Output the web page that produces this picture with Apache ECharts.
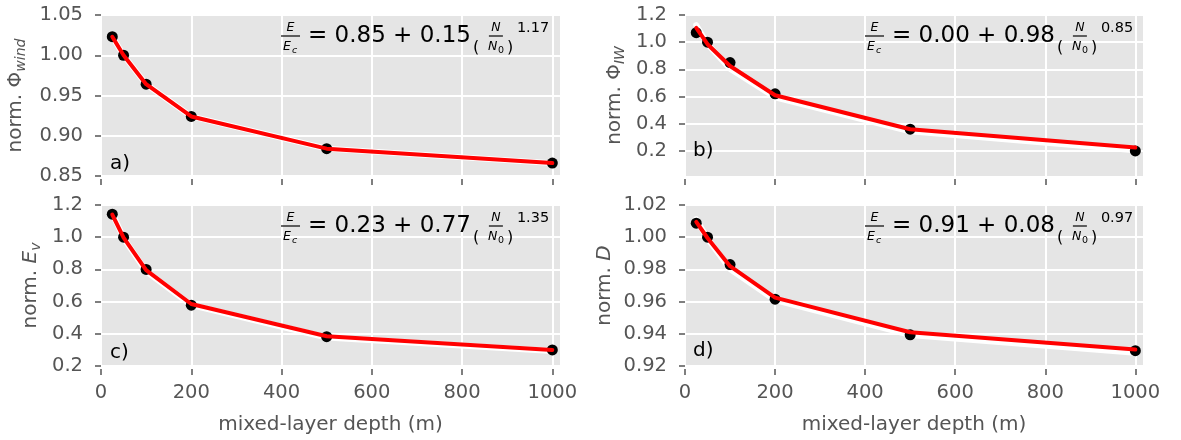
<!DOCTYPE html>
<html>
<head>
<meta charset="utf-8">
<script src="https://cdn.jsdelivr.net/npm/echarts@6/dist/echarts.min.js"></script>
<style>
html, body { margin: 0; padding: 0; background: #ffffff; }
#chart { width: 1181px; height: 440px; }
</style>
</head>
<body>
<div id="chart"></div>
<script>
// Mixed-layer depth (m) of each experiment
const depths = [25, 50, 100, 200, 500, 1000];

// a) normalised wind power input
const windObs = [1.023, 1.000, 0.964, 0.924, 0.884, 0.866];
const windFit = [1.023, 1.000, 0.964, 0.924, 0.884, 0.866];
const windFitHalo = [1.023, 1.000, 0.964, 0.924, 0.884, 0.866];

// b) normalised internal-wave energy flux
const iwObs = [1.07, 1.00, 0.85, 0.62, 0.36, 0.20];
const iwFit = [1.105, 0.985, 0.825, 0.610, 0.360, 0.225];
const iwFitHalo = [1.125, 0.985, 0.805, 0.595, 0.345, 0.205];

// c) normalised vertical energy
const evObs = [1.143, 1.000, 0.800, 0.578, 0.382, 0.300];
const evFit = [1.140, 0.998, 0.795, 0.585, 0.385, 0.300];
const evFitHalo = [1.148, 0.995, 0.788, 0.578, 0.377, 0.293];

// d) normalised dissipation
const dObs = [1.0087, 1.0000, 0.9830, 0.9615, 0.9394, 0.9295];
const dFit = [1.0095, 0.9995, 0.9820, 0.9625, 0.9410, 0.9302];
const dFitHalo = [1.0112, 0.9990, 0.9803, 0.9610, 0.9393, 0.9283];

// Fit coefficients shown in each panel
const fitOffsets = ['0.85', '0.00', '0.23', '0.91'];
const fitScales = ['0.15', '0.98', '0.77', '0.08'];
const fitPowers = ['1.17', '0.85', '1.35', '0.97'];

// Axis ticks
const xTicks = [0, 200, 400, 600, 800, 1000];
const yTicksA = [0.85, 0.90, 0.95, 1.00, 1.05];
const yTicksB = [0.2, 0.4, 0.6, 0.8, 1.0, 1.2];
const yTicksC = [0.2, 0.4, 0.6, 0.8, 1.0, 1.2];
const yTicksD = [0.92, 0.94, 0.96, 0.98, 1.00, 1.02];

const panelTags = ['a)', 'b)', 'c)', 'd)'];
const xTitle = 'mixed-layer depth (m)';

const FONT = 'DejaVu Sans';
const GREY = '#555555';

const panels = [
  { obs: windObs, fit: windFit, halo: windFitHalo, ticks: yTicksA, min: 0.85, max: 1.05, dec: 2,
    name: 'norm. Φ{s|wind}', nameGap: 70 },
  { obs: iwObs, fit: iwFit, halo: iwFitHalo, ticks: yTicksB, min: 0.016, max: 1.2, dec: 1,
    name: 'norm. Φ{s|IW}', nameGap: 55 },
  { obs: evObs, fit: evFit, halo: evFitHalo, ticks: yTicksC, min: 0.2, max: 1.2, dec: 1,
    name: 'norm. {i|E}{s|v}', nameGap: 55 },
  { obs: dObs, fit: dFit, halo: dFitHalo, ticks: yTicksD, min: 0.92, max: 1.02, dec: 2,
    name: 'norm. {i|D}', nameGap: 65 }
];

const gridRects = [
  { left: 101, top: 15, width: 459, height: 161 },
  { left: 685, top: 15, width: 458, height: 161 },
  { left: 101, top: 205, width: 459, height: 161 },
  { left: 685, top: 205, width: 458, height: 161 }
];

const formulaAnchors = [[281, 36], [865, 36], [281, 226], [865, 226]];
const tagAnchors = [[110, 164], [693, 150.5], [110, 353], [693, 351]];

const pairs = (ys) => depths.map((x, k) => [x, ys[k]]);

const tickStyle = { color: GREY, width: 1.5 };

const grids = gridRects.map(r => Object.assign({
  show: true, backgroundColor: '#E5E5E5', borderWidth: 0, containLabel: false
}, r));

const xAxes = panels.map((p, i) => ({
  type: 'value', gridIndex: i, min: 0, max: 1017, offset: 3,
  axisLine: { show: false },
  axisTick: { show: true, length: 6, lineStyle: tickStyle, customValues: xTicks },
  axisLabel: { show: i >= 2, customValues: xTicks, margin: 14, color: GREY,
               fontSize: 19.5, fontFamily: FONT, formatter: v => String(v) },
  splitLine: { show: true, lineStyle: { color: '#ffffff', width: 2 } },
  name: i >= 2 ? xTitle : '', nameLocation: 'middle', nameGap: 46,
  nameTextStyle: { color: GREY, fontSize: 20, fontFamily: FONT }
}));

const yAxes = panels.map((p, i) => ({
  type: 'value', gridIndex: i, min: p.min, max: p.max, offset: 3,
  axisLine: { show: false },
  axisTick: { show: true, length: 6, lineStyle: tickStyle, customValues: p.ticks },
  axisLabel: { customValues: p.ticks, margin: 15, color: GREY, fontSize: 19.5, fontFamily: FONT,
               formatter: v => Number(v).toFixed(p.dec) },
  splitLine: { show: true, lineStyle: { color: '#ffffff', width: 2 } },
  name: p.name, nameLocation: 'middle', nameRotate: 90, nameGap: p.nameGap,
  nameTextStyle: {
    color: GREY, fontSize: 20, fontFamily: FONT, lineHeight: 24,
    rich: {
      s: { fontSize: 14, fontStyle: 'italic', color: GREY, fontFamily: FONT,
           verticalAlign: 'bottom', lineHeight: 14 },
      i: { fontSize: 20, fontStyle: 'italic', color: GREY, fontFamily: FONT, lineHeight: 24 }
    }
  }
}));

const series = [];
panels.forEach((p, i) => {
  series.push({
    type: 'line', xAxisIndex: i, yAxisIndex: i, data: pairs(p.halo), symbol: 'none',
    lineStyle: { color: '#ffffff', width: 6, cap: 'round', join: 'round' }, z: 2, silent: true
  });
  series.push({
    type: 'scatter', xAxisIndex: i, yAxisIndex: i, data: pairs(p.obs), symbolSize: 11,
    itemStyle: { color: '#000000', opacity: 1 }, z: 3, silent: true
  });
  series.push({
    type: 'line', xAxisIndex: i, yAxisIndex: i, data: pairs(p.fit), symbol: 'none',
    lineStyle: { color: '#ff0000', width: 4, cap: 'round', join: 'round' }, z: 4, silent: true
  });
});

// Measure the main part of each formula so the power-law term follows it
const measureCtx = document.createElement('canvas').getContext('2d');
function textWidth(str, font) {
  measureCtx.font = font;
  return measureCtx.measureText(str).width;
}

function txt(text, x, y, size, opts) {
  const o = opts || {};
  return {
    type: 'text', silent: true, z: 100,
    style: {
      text: text, x: x, y: y,
      font: (o.italic ? 'italic ' : '') + size + 'px "' + FONT + '"',
      fill: o.fill || '#000000',
      align: o.align || 'left', textAlign: o.align || 'left',
      verticalAlign: o.va || 'middle', textVerticalAlign: o.va || 'middle'
    }
  };
}
function bar(x1, x2, y) {
  return {
    type: 'line', silent: true, z: 100,
    shape: { x1: x1, y1: y, x2: x2, y2: y },
    style: { stroke: '#000000', lineWidth: 1.2 }
  };
}

const graphics = [];
panels.forEach((p, i) => {
  const [fx, fy] = formulaAnchors[i];
  // E / E_c
  graphics.push(bar(fx, fx + 19, fy));
  graphics.push(txt('E', fx + 9.5, fy - 2, 12.5, { italic: true, align: 'center', va: 'bottom' }));
  graphics.push(txt('E', fx + 2, fy + 11, 12.5, { italic: true }));
  graphics.push(txt('c', fx + 11, fy + 15, 9.5, { italic: true }));
  // = a + b
  const main = '= ' + fitOffsets[i] + ' + ' + fitScales[i];
  const mainFont = '23px "' + FONT + '"';
  const mx = fx + 27;
  graphics.push(txt(main, mx, fy, 23));
  const px = mx + textWidth(main, mainFont) + 2;
  // ( N / N_0 )
  graphics.push(txt('(', px, fy + 12, 16));
  graphics.push(bar(px + 16, px + 30, fy));
  graphics.push(txt('N', px + 23, fy - 2, 12.5, { italic: true, align: 'center', va: 'bottom' }));
  graphics.push(txt('N', px + 15, fy + 11, 12.5, { italic: true }));
  graphics.push(txt('0', px + 25, fy + 15, 9.5));
  graphics.push(txt(')', px + 34, fy + 12, 16));
  // exponent
  graphics.push(txt(fitPowers[i], px + 44, fy - 8, 14.5));
  // panel tag
  const [tx, ty] = tagAnchors[i];
  graphics.push(txt(panelTags[i], tx, ty, 20));
});

const chart = echarts.init(document.getElementById('chart'), null, { renderer: 'canvas' });
chart.setOption({
  animation: false,
  backgroundColor: '#ffffff',
  grid: grids,
  xAxis: xAxes,
  yAxis: yAxes,
  series: series,
  graphic: graphics
});
</script>
</body>
</html>
